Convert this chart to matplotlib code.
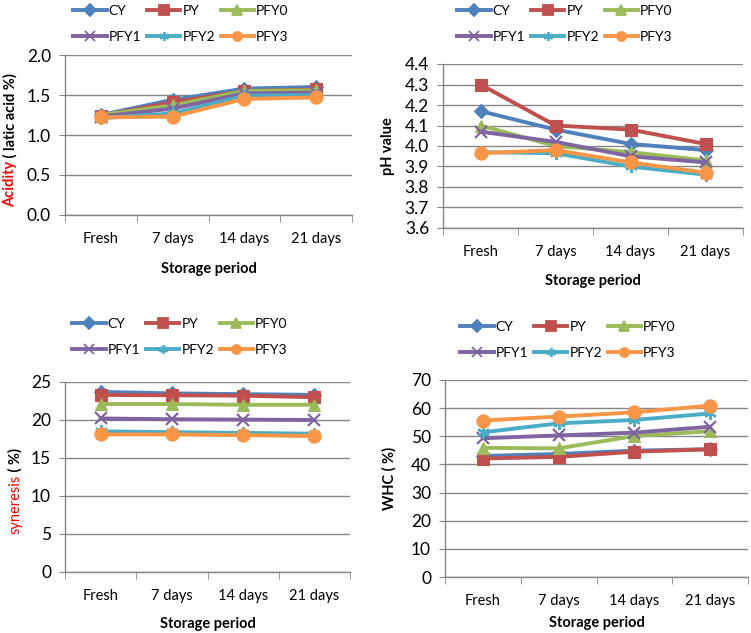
import matplotlib
matplotlib.use("Agg")
from matplotlib import pyplot as plt
from matplotlib.lines import Line2D

plt.rcParams["font.family"] = ["Lato", "DejaVu Sans"]

periods = ["Fresh", "7 days", "14 days", "21 days"]
series = ["CY", "PY", "PFY0", "PFY1", "PFY2", "PFY3"]
colors = ["#4F81BD", "#C0504D", "#9BBB59", "#8064A2", "#4BACC6", "#F79646"]
markers = ["D", "s", "^", "x", (6, 2, 0), "o"]
msizes = [7, 8, 8, 8, 9, 9.5]

acidity = {
    "CY": [1.25, 1.44, 1.58, 1.60],
    "PY": [1.24, 1.41, 1.55, 1.57],
    "PFY0": [1.25, 1.37, 1.55, 1.56],
    "PFY1": [1.23, 1.33, 1.52, 1.53],
    "PFY2": [1.21, 1.27, 1.49, 1.50],
    "PFY3": [1.22, 1.23, 1.45, 1.47],
}
ph = {
    "CY": [4.17, 4.08, 4.01, 3.98],
    "PY": [4.30, 4.10, 4.08, 4.01],
    "PFY0": [4.10, 4.00, 3.97, 3.93],
    "PFY1": [4.07, 4.02, 3.95, 3.92],
    "PFY2": [3.97, 3.965, 3.90, 3.86],
    "PFY3": [3.965, 3.98, 3.92, 3.87],
}
syneresis = {
    "CY": [23.7, 23.5, 23.4, 23.3],
    "PY": [23.3, 23.25, 23.2, 23.0],
    "PFY0": [22.1, 22.1, 22.0, 22.0],
    "PFY1": [20.2, 20.1, 20.05, 20.0],
    "PFY2": [18.5, 18.4, 18.3, 18.2],
    "PFY3": [18.1, 18.1, 18.0, 17.9],
}
whc = {
    "CY": [43.0, 43.7, 44.9, 45.4],
    "PY": [42.1, 42.7, 44.5, 45.4],
    "PFY0": [45.9, 45.7, 50.1, 51.8],
    "PFY1": [49.3, 50.3, 51.3, 53.4],
    "PFY2": [51.4, 54.6, 55.8, 58.1],
    "PFY3": [55.6, 57.0, 58.5, 60.9],
}

W, H = 751, 633


def px_axes(left, top, right, bottom):
    return [left / W, 1 - bottom / H, (right - left) / W, (bottom - top) / H]


def draw_panel(fig, rect, data, ylim, yticks, fmt, xpad):
    ax = fig.add_axes(px_axes(*rect))
    x = range(len(periods))
    for name, c, m, ms in zip(series, colors, markers, msizes):
        ax.plot(x, data[name], color=c, marker=m, markersize=ms, lw=2.8,
                markeredgewidth=1.6 if m in ("x", (6, 2, 0)) else 0.8,
                markeredgecolor=c, label=name)
    ax.set_xlim(-0.5, 3.5)
    ax.set_ylim(*ylim)
    ax.set_yticks(yticks)
    ax.set_yticklabels([fmt.format(v) for v in yticks])
    ax.set_xticks(list(x))
    ax.set_xticklabels(periods)
    ax.set_xticks([-0.5, 0.5, 1.5, 2.5, 3.5], minor=True)
    ax.tick_params(axis="x", which="major", length=0, pad=12, labelsize=10.5)
    ax.tick_params(axis="x", which="minor", length=5, color="#868686",
                   direction="out")
    ax.tick_params(axis="y", length=4, color="#868686", pad=6,
                   labelsize=12.5)
    ax.grid(axis="y", color="#868686", lw=1)
    ax.set_axisbelow(True)
    for s in ("top", "right"):
        ax.spines[s].set_visible(False)
    for s in ("left", "bottom"):
        ax.spines[s].set_color("#868686")
        ax.spines[s].set_linewidth(1)
    ax.set_xlabel("Storage period", fontweight="bold", fontsize=10.5,
                  labelpad=xpad)
    return ax


def add_legend(fig, ax, cx, cy):
    handles, labels = ax.get_legend_handles_labels()
    order = [0, 3, 1, 4, 2, 5]
    hs = []
    for i in order:
        h = handles[i]
        hs.append(Line2D([], [], color=h.get_color(), lw=2.8,
                         marker=h.get_marker(), markersize=6.5,
                         markeredgecolor=h.get_color(),
                         markeredgewidth=1.3))
    fig.legend(hs, [labels[i] for i in order], ncol=3, frameon=False,
               loc="center", bbox_to_anchor=(cx / W, 1 - cy / H),
               fontsize=10, handlelength=2.4, handletextpad=0.15,
               columnspacing=0.4, labelspacing=1.0, borderpad=0)


def ylabel_parts(ax, x, y0, parts):
    prev = None
    for text, color, weight in parts:
        if prev is None:
            prev = ax.text(x, y0, text, color=color, fontweight=weight,
                           rotation=90, fontsize=10.5, ha="center",
                           va="bottom", transform=ax.transAxes)
        else:
            prev = ax.annotate(text, xy=(0.5, 1), xycoords=prev,
                               color=color, fontweight=weight, rotation=90,
                               fontsize=10.5, ha="center", va="bottom")


fig = plt.figure(figsize=(W / 100, H / 100), dpi=100)

ax1 = draw_panel(fig, (65, 55, 352, 215), acidity, (0, 2.0),
                 [0.0, 0.5, 1.0, 1.5, 2.0], "{:.1f}", 12)
add_legend(fig, ax1, 181, 24)
ylabel_parts(ax1, -0.19, 0.05, [("Acidity", "red", "bold"),
                                (" ( latic acid %)", "black", "bold")])

ax2 = draw_panel(fig, (443, 64, 743, 228), ph, (3.6, 4.4),
                 [3.6, 3.7, 3.8, 3.9, 4.0, 4.1, 4.2, 4.3, 4.4], "{:.1f}", 11)
add_legend(fig, ax2, 565, 24)
ax2.set_ylabel("pH value", fontweight="bold", fontsize=10.5)
ax2.yaxis.set_label_coords(-0.16, 0.5)

ax3 = draw_panel(fig, (65, 382, 350, 572), syneresis, (0, 25),
                 [0, 5, 10, 15, 20, 25], "{:d}", 10)
add_legend(fig, ax3, 180, 337)
ylabel_parts(ax3, -0.175, 0.2, [("syneresis", "red", "normal"),
                                (" ( %)", "black", "bold")])

ax4 = draw_panel(fig, (445, 380, 748, 577), whc, (0, 70),
                 [0, 10, 20, 30, 40, 50, 60, 70], "{:d}", 6)
add_legend(fig, ax4, 568, 340)
ax4.set_ylabel("WHC ( %)", fontweight="bold", fontsize=10.5)
ax4.yaxis.set_label_coords(-0.16, 0.5)

fig.savefig("out.png", dpi=100)
